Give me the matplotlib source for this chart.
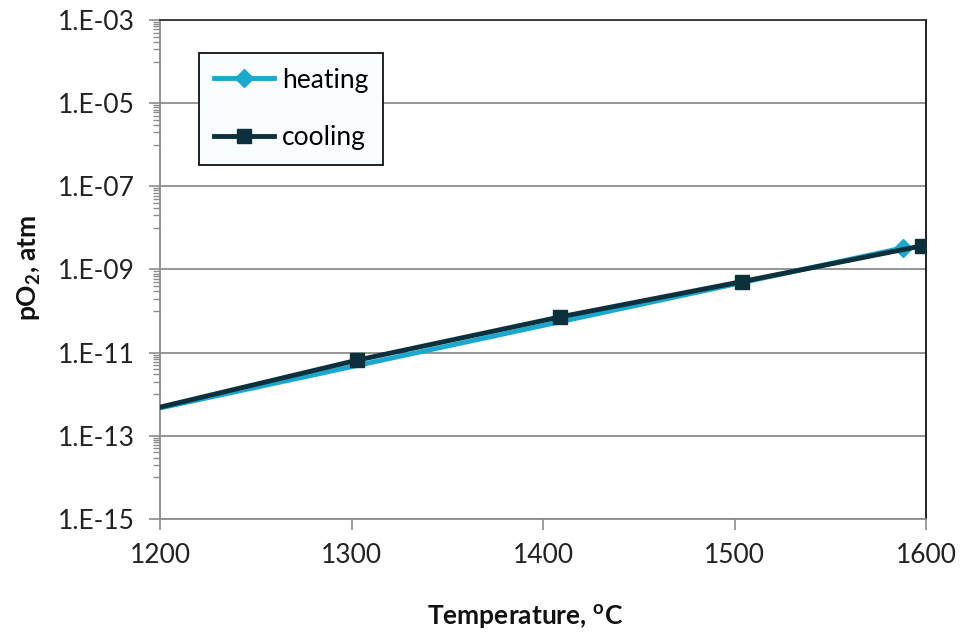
import numpy as np
import matplotlib
matplotlib.use("Agg")
import matplotlib.pyplot as plt
from matplotlib.ticker import FixedLocator, FuncFormatter

plt.rcParams['font.family'] = ['Lato', 'DejaVu Sans']
plt.rcParams['mathtext.fontset'] = 'custom'
plt.rcParams['mathtext.rm'] = 'Lato'
plt.rcParams['mathtext.bf'] = 'Lato:bold'

# data (log10 of pO2, atm)
heating_T = [1190, 1588]
heating_logp = [-12.43, -8.48]
cooling_T = [1190, 1303, 1409, 1504, 1598]
cooling_logp = [-12.42, -11.18, -10.14, -9.29, -8.43]

x_ticks = [1200, 1300, 1400, 1500, 1600]
y_exps = [-15, -13, -11, -9, -7, -5, -3]

heat_col = "#1aa8cf"
cool_col = "#0c313c"

fig = plt.figure(figsize=(9.6, 6.37), dpi=100)
ax = fig.add_axes([160 / 960, 1 - 519 / 637, 766 / 960, 499 / 637])

ax.plot(heating_T, 10.0 ** np.array(heating_logp), color=heat_col, lw=3.5,
        marker="D", ms=9, label="heating", zorder=3)
ax.plot(cooling_T, 10.0 ** np.array(cooling_logp), color=cool_col, lw=3.5,
        marker="s", ms=10, label="cooling", zorder=4)

ax.set_yscale("log")
ax.set_xlim(1200, 1600)
ax.set_ylim(1e-15, 1e-3)

ax.set_xticks(x_ticks)
ax.yaxis.set_major_locator(FixedLocator([10.0 ** e for e in y_exps]))
minors = [k * 10.0 ** (e - 1) for e in y_exps[1:] for k in range(1, 10)]
ax.yaxis.set_minor_locator(FixedLocator(minors))
ax.yaxis.set_minor_formatter(FuncFormatter(lambda v, p: ""))
ax.yaxis.set_major_formatter(FuncFormatter(lambda v, p: "1.E-%02d" % round(-np.log10(v))))

ax.grid(True, which="major", axis="y", color="#8c8c8c", lw=1.3)
ax.tick_params(axis="both", which="major", labelsize=19, length=8, width=1.2,
               color="#8c8c8c", labelcolor="#222222")
ax.tick_params(axis="y", which="major", pad=10)
ax.tick_params(axis="y", which="minor", length=5, width=1, color="#8c8c8c")
ax.tick_params(axis="x", pad=9)

ax.spines["left"].set_color("#8c8c8c")
ax.spines["bottom"].set_color("#8c8c8c")
ax.spines["left"].set_linewidth(1.3)
ax.spines["bottom"].set_linewidth(1.3)
ax.spines["top"].set_color("#333333")
ax.spines["right"].set_color("#111111")
ax.spines["top"].set_linewidth(1.3)
ax.spines["right"].set_linewidth(1.3)

ax.set_xlabel(r"Temperature, $^\mathbf{o}$C", fontsize=19, fontweight="bold",
              color="#111111", va="center")
ax.xaxis.set_label_coords(0.4765, -0.196)
ax.set_ylabel(r"pO$_\mathbf{2}$, atm", fontsize=19, fontweight="bold",
              color="#111111", va="center")
ax.yaxis.set_label_coords(-0.171, 0.503)

leg = ax.legend(loc="upper left", bbox_to_anchor=(39 / 766, 1 - 33 / 499),
                fontsize=19, frameon=True, fancybox=False, borderpad=0.55,
                labelspacing=1.25, handlelength=2.3, handletextpad=0.3,
                borderaxespad=0)
leg.get_frame().set_edgecolor("#111111")
leg.get_frame().set_linewidth(1.3)
leg.get_frame().set_facecolor("#fafdff")
leg.get_frame().set_alpha(1)

fig.savefig("out.png", dpi=100)
